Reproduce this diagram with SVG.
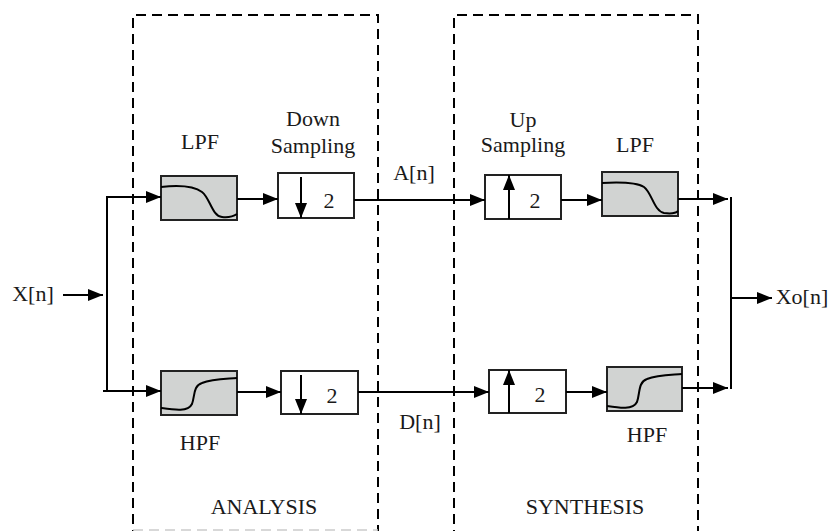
<svg xmlns="http://www.w3.org/2000/svg" width="828" height="531" viewBox="0 0 828 531">
  <style>
    .t { font-family: "Liberation Serif", "Times New Roman", serif; font-size: 22px; fill: #1a1a1a; text-anchor: middle; }
    .frame { fill: none; stroke: #000; stroke-width: 2; stroke-dasharray: 10 6; }
    .filt { fill: #d1d3d2; stroke: #222; stroke-width: 2; }
    .samp { fill: #fff; stroke: #222; stroke-width: 2; }
    .resp { fill: none; stroke: #000; stroke-width: 2; }
    .wire { fill: none; stroke: #000; stroke-width: 2; }
    .arr { fill: none; stroke: #000; stroke-width: 2; marker-end: url(#head); }
  </style>
  <defs>
    <marker id="head" viewBox="0 0 15 12" refX="15" refY="6" markerWidth="15" markerHeight="12" markerUnits="userSpaceOnUse" orient="auto">
      <path d="M0,0 L15,6 L0,12 Z" fill="#000"/>
    </marker>
  </defs>

  <rect width="828" height="531" fill="#fff"/>

  <!-- dashed stage frames -->
  <g id="analysis">
    <path class="frame" d="M133,540 V15 H378 V540"/>
    <path d="M133,530 H378" fill="none" stroke="#ccc" stroke-width="1.5" stroke-dasharray="10 6"/>
    <text class="t" x="264" y="514">ANALYSIS</text>
  </g>
  <g id="synthesis">
    <path class="frame" d="M454,540 V15 H698 V540"/>
    <text class="t" x="585" y="514">SYNTHESIS</text>
  </g>

  <!-- analysis filters -->
  <g id="lpf-a">
    <rect class="filt" x="161" y="176" width="76" height="44"/>
    <path class="resp" d="M161,187 C180,185 194,186 202,192 C210,198 212,216 222,217 C230,218 234,216 237,214"/>
    <text class="t" x="200" y="149">LPF</text>
  </g>
  <g id="hpf-a">
    <rect class="filt" x="161" y="371" width="76" height="44"/>
    <path class="resp" d="M161,408 C175,410 188,412 192,404 C195,396 193,386 202,383 C212,379 226,379 237,378"/>
    <text class="t" x="200" y="450">HPF</text>
  </g>

  <!-- down samplers -->
  <g id="down-a">
    <rect class="samp" x="278" y="173" width="76" height="45"/>
    <line class="arr" x1="301" y1="177" x2="301" y2="218"/>
    <text class="t" x="329" y="208">2</text>
    <text class="t" x="313" y="126">Down</text>
    <text class="t" x="313" y="153">Sampling</text>
  </g>
  <g id="down-d">
    <rect class="samp" x="281" y="371" width="77" height="43"/>
    <line class="arr" x1="301" y1="375" x2="301" y2="414"/>
    <text class="t" x="332" y="403">2</text>
  </g>

  <!-- up samplers -->
  <g id="up-a">
    <rect class="samp" x="485" y="175" width="76" height="44"/>
    <line class="arr" x1="509" y1="219" x2="509" y2="175"/>
    <text class="t" x="535" y="208">2</text>
    <text class="t" x="523" y="127">Up</text>
    <text class="t" x="523" y="152">Sampling</text>
  </g>
  <g id="up-d">
    <rect class="samp" x="489" y="370" width="77" height="43"/>
    <line class="arr" x1="509" y1="413" x2="509" y2="370"/>
    <text class="t" x="540" y="402">2</text>
  </g>

  <!-- synthesis filters -->
  <g id="lpf-s">
    <rect class="filt" x="602" y="172" width="76" height="44"/>
    <path class="resp" d="M602,183 C620,182 636,182 644,187 C652,193 654,211 664,213 C672,214 676,213 678,211"/>
    <text class="t" x="635" y="152">LPF</text>
  </g>
  <g id="hpf-s">
    <rect class="filt" x="607" y="367" width="75" height="44"/>
    <path class="resp" d="M607,406 C620,408 633,410 637,402 C640,394 638,382 647,379 C657,375 670,375 682,374"/>
    <text class="t" x="647" y="442">HPF</text>
  </g>

  <!-- signal labels -->
  <g id="signals">
    <text class="t" x="33" y="301">X[n]</text>
    <text class="t" x="414" y="180">A[n]</text>
    <text class="t" x="420" y="429">D[n]</text>
    <text class="t" x="802" y="304">Xo[n]</text>
  </g>

  <!-- connectors -->
  <g id="connectors">
    <line class="arr" x1="63" y1="295" x2="103" y2="295"/>
    <path class="wire" d="M103,391 H107 V197"/>
    <path class="arr" d="M106,197 H161"/>
    <path class="arr" d="M107,391 H161"/>
    <line class="arr" x1="237" y1="199" x2="278" y2="199"/>
    <line class="arr" x1="237" y1="392" x2="281" y2="392"/>
    <line class="arr" x1="354" y1="200" x2="485" y2="200"/>
    <line class="arr" x1="358" y1="392" x2="489" y2="392"/>
    <line class="arr" x1="561" y1="200" x2="602" y2="200"/>
    <line class="arr" x1="566" y1="392" x2="607" y2="392"/>
    <line class="arr" x1="678" y1="199" x2="728" y2="199"/>
    <line class="arr" x1="682" y1="388" x2="728" y2="388"/>
    <line class="wire" x1="731" y1="197" x2="731" y2="389"/>
    <line class="arr" x1="731" y1="298" x2="772" y2="298"/>
  </g>
</svg>
